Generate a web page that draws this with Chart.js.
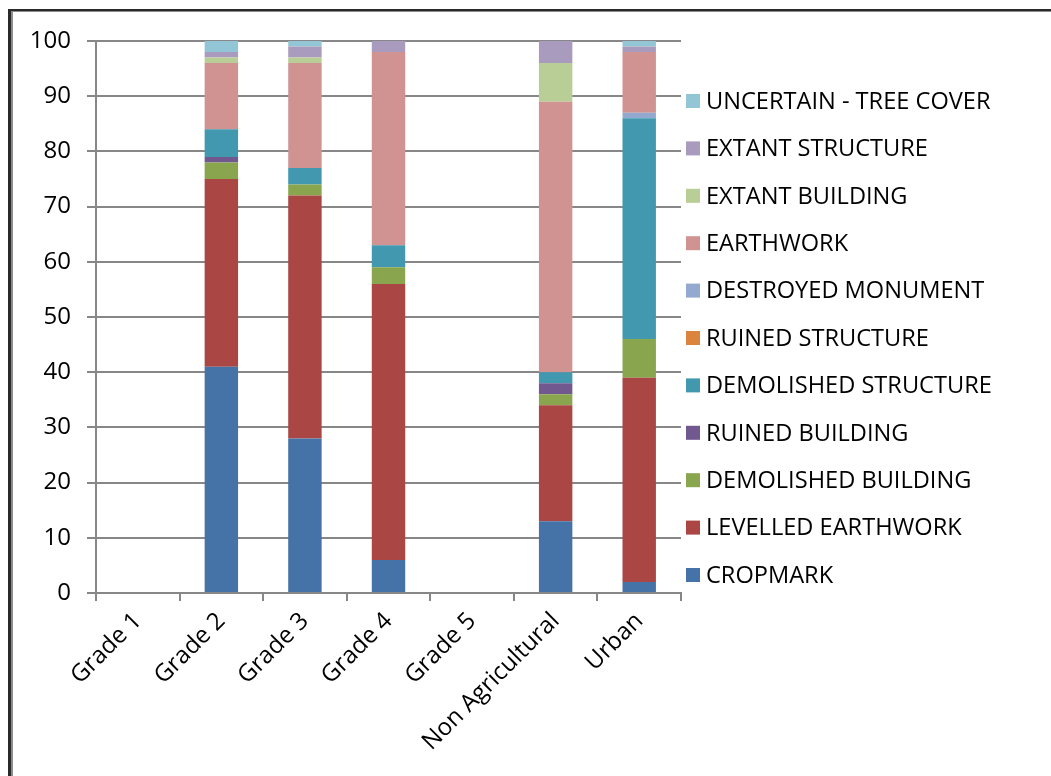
<!DOCTYPE html>
<html>
<head>
<meta charset="utf-8">
<script src="https://cdn.jsdelivr.net/npm/chart.js@4/dist/chart.umd.min.js"></script>
<style>
  html, body { margin: 0; padding: 0; background: #ffffff; }
  #wrap { width: 1051px; height: 776px; position: relative; }
</style>
</head>
<body>
<div id="wrap"><canvas id="c" width="1051" height="776"></canvas></div>
<script>
// Land-use categories along the x axis
const categories = ['Grade 1', 'Grade 2', 'Grade 3', 'Grade 4', 'Grade 5', 'Non Agricultural', 'Urban'];

// Percentage of monuments in each condition class, per category
const cropmark            = [0, 41, 28,  6, 0, 13,  2];
const levelledEarthwork   = [0, 34, 44, 50, 0, 21, 37];
const demolishedBuilding  = [0,  3,  2,  3, 0,  2,  7];
const ruinedBuilding      = [0,  1,  0,  0, 0,  2,  0];
const demolishedStructure = [0,  5,  3,  4, 0,  2, 40];
const ruinedStructure     = [0,  0,  0,  0, 0,  0,  0];
const destroyedMonument   = [0,  0,  0,  0, 0,  0,  1];
const earthwork           = [0, 12, 19, 35, 0, 49, 11];
const extantBuilding      = [0,  1,  1,  0, 0,  7,  0];
const extantStructure     = [0,  1,  2,  2, 0,  4,  1];
const uncertainTreeCover  = [0,  2,  1,  0, 0,  0,  1];

const yTicks = [0, 10, 20, 30, 40, 50, 60, 70, 80, 90, 100];

const series = [
  ['CROPMARK',               cropmark,            '#4572A7'],
  ['LEVELLED EARTHWORK',     levelledEarthwork,   '#AA4643'],
  ['DEMOLISHED BUILDING',    demolishedBuilding,  '#89A54E'],
  ['RUINED BUILDING',        ruinedBuilding,      '#71588F'],
  ['DEMOLISHED STRUCTURE',   demolishedStructure, '#4198AF'],
  ['RUINED STRUCTURE',       ruinedStructure,     '#DB843D'],
  ['DESTROYED MONUMENT',     destroyedMonument,   '#93A9CF'],
  ['EARTHWORK',              earthwork,           '#D19392'],
  ['EXTANT BUILDING',        extantBuilding,      '#B9CD96'],
  ['EXTANT STRUCTURE',       extantStructure,     '#A99BBD'],
  ['UNCERTAIN - TREE COVER', uncertainTreeCover,  '#92C5D6']
];

const FONT = '"Open Sans", "DejaVu Sans", sans-serif';
const GRID = '#878787';

// Double frame around the whole figure
const framePlugin = {
  id: 'frame',
  beforeDraw(chart) {
    const ctx = chart.ctx;
    ctx.save();
    ctx.fillStyle = '#ffffff';
    ctx.fillRect(0, 0, chart.width, chart.height);
    ctx.fillStyle = '#2a2a2a';
    ctx.fillRect(8, 9, 3, chart.height - 9);
    ctx.fillRect(8, 9, chart.width - 8, 2);
    ctx.fillStyle = '#8c8c8c';
    ctx.fillRect(11, 11, 2, chart.height - 11);
    ctx.fillRect(11, 11, chart.width - 11, 1);
    ctx.restore();
  }
};

// Legend listed top-down in reverse stacking order, beside the plot
const legendPlugin = {
  id: 'sideLegend',
  afterDraw(chart) {
    const ctx = chart.ctx;
    const ds = chart.data.datasets;
    const area = chart.chartArea;
    const x0 = area.right + 5;
    const top = 101, step = 47.4, box = 14;
    ctx.save();
    ctx.font = '23.6px ' + FONT;
    ctx.textBaseline = 'middle';
    ctx.textAlign = 'left';
    for (let k = 0; k < ds.length; k++) {
      const d = ds[ds.length - 1 - k];
      const cy = top + k * step;
      ctx.fillStyle = d.backgroundColor;
      ctx.fillRect(x0, cy - box / 2, box, box);
      ctx.fillStyle = '#000000';
      ctx.fillText(d.label, x0 + 20, cy + 1);
    }
    ctx.restore();
  }
};

new Chart(document.getElementById('c'), {
  type: 'bar',
  data: {
    labels: categories,
    datasets: series.map(([label, data, color]) => ({
      label, data,
      backgroundColor: color,
      borderWidth: 0,
      categoryPercentage: 1.0,
      barPercentage: 0.4
    }))
  },
  options: {
    responsive: false,
    animation: false,
    events: [],
    layout: { padding: { left: 0, top: 41, right: 370, bottom: 0 } },
    plugins: {
      legend: { display: false },
      tooltip: { enabled: false }
    },
    scales: {
      x: {
        stacked: true,
        offset: true,
        grid: {
          offset: true,
          drawOnChartArea: false,
          drawTicks: true,
          tickLength: 8,
          color: GRID,
          lineWidth: 2
        },
        border: { color: GRID, width: 2 },
        ticks: {
          color: '#000000',
          font: { family: FONT, size: 24 },
          minRotation: 45,
          maxRotation: 45,
          padding: 6
        },
        afterFit(scale) { scale.height = 183; }
      },
      y: {
        stacked: true,
        min: 0,
        max: 100,
        afterBuildTicks(scale) { scale.ticks = yTicks.map(v => ({ value: v })); },
        grid: {
          color: GRID,
          lineWidth: 2,
          drawTicks: true,
          tickLength: 9
        },
        border: { color: GRID, width: 2 },
        ticks: {
          color: '#000000',
          font: { family: FONT, size: 24 },
          padding: 16
        },
        afterFit(scale) { scale.width = 96; }
      }
    }
  },
  plugins: [framePlugin, legendPlugin]
});
</script>
</body>
</html>
